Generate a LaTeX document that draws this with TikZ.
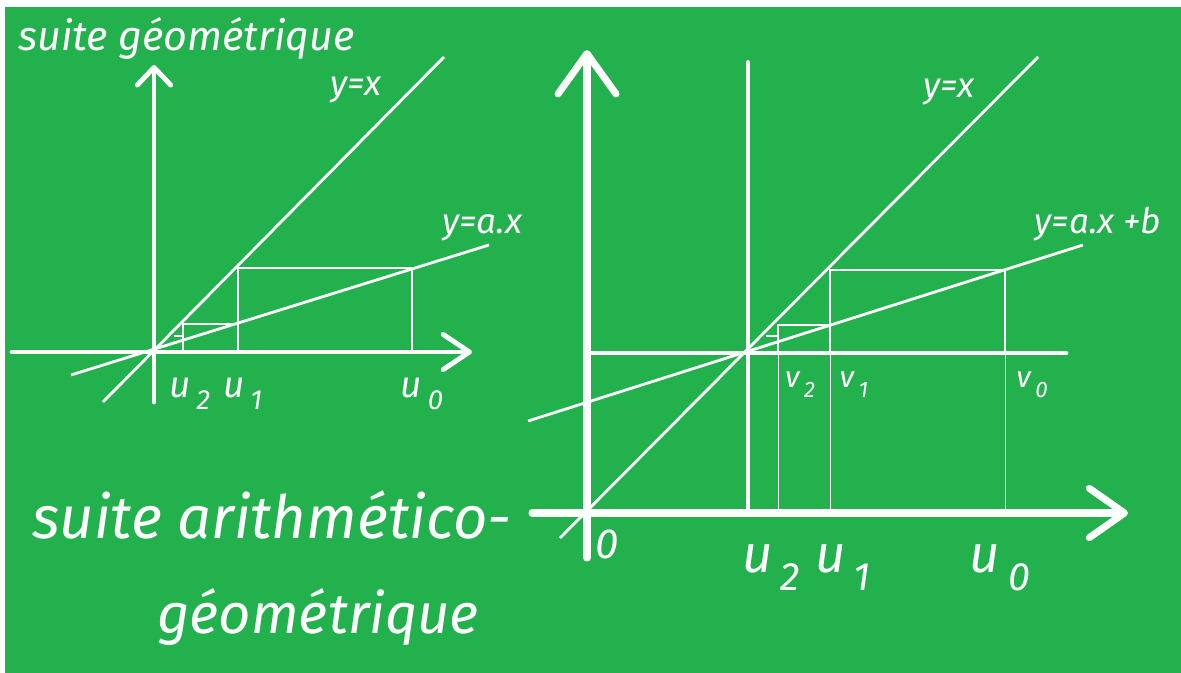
\documentclass[tikz,border=0pt]{standalone}
\usepackage{fontspec}
\setmainfont{Fira Sans}
\usepackage{tikz}
\usetikzlibrary{arrows.meta}
\definecolor{board}{RGB}{34,177,76}
\newcommand{\seq}[2]{#1\kern.15em\raisebox{-.35em}{\scalebox{.75}{#2}}}

\tikzset{
  axis/.style={white, line width=2.8pt, line cap=round},
  graphline/.style={white, line width=1.6pt},
  stairline/.style={white, line width=1pt},
  thinstair/.style={white, line width=.5pt},
  lbl/.style={text=white, font=\itshape\fontsize{#1}{#1}\selectfont, inner sep=0pt},
}

\begin{document}
\begin{tikzpicture}[x=0.02cm, y=-0.02cm]
  \useasboundingbox (0,0) rectangle (1181,673);
  % tableau
  \fill[white] (-5,-5) rectangle (1190,680);
  \fill[board] (5,7) rectangle (1190,680);

  % suite geometrique
  \draw[axis, -{Straight Barb[length=15pt, width=20pt, round]}] (12,352) -- (472,352);
  \draw[axis, -{Straight Barb[length=10pt, width=19pt, round]}] (154,402) -- (154,65);
  \draw[graphline] (103,402) -- (444,57);
  \draw[graphline] (71,375) -- (489,245);
  \draw[stairline] (412,352) -- (412,268) -- (238,268) -- (238,352);
  \draw[stairline] (238,324) -- (183,324) -- (183,352);
  \draw[stairline] (183,336) -- (174,336);

  \node[lbl=23.5pt, anchor=base west] (titregeo) at (18,50) {suite géométrique};
  \node[lbl=20pt, anchor=base] (yxgeo) at (356,95) {y=x};
  \node[lbl=20pt, anchor=base] (yaxgeo) at (482,233) {y=a.x};
  \node[lbl=21pt, anchor=base] (u2geo) at (190,397) {\seq{u}{2}};
  \node[lbl=21pt, anchor=base] (u1geo) at (243,397) {\seq{u}{1}};
  \node[lbl=21pt, anchor=base] (u0geo) at (422,397) {\seq{u}{0}};

  % suite arithmetico-geometrique
  \draw[axis, line width=4pt, -{Straight Barb[length=20pt, width=28pt, round]}] (532,513) -- (1128,513);
  \draw[axis, line width=4pt, -{Straight Barb[length=23pt, width=33pt, round]}] (587,558) -- (587,50);
  \draw[axis, line width=2.2pt] (748,513) -- (748,62);
  \draw[axis] (587,353) -- (1066,353);
  \draw[graphline] (560,538) -- (1038,57);
  \draw[graphline] (528,421) -- (1083,245);
  \draw[stairline] (1005,353) -- (1005,270) -- (830,270) -- (830,353);
  \draw[stairline] (830,325) -- (778,325) -- (778,353);
  \draw[stairline] (778,336) -- (766,336);
  \draw[thinstair] (1005,353) -- (1005,513);
  \draw[thinstair] (830,353) -- (830,513);
  \draw[thinstair] (778,353) -- (778,513);

  \node[lbl=20pt, anchor=base] (yxag) at (949,97) {y=x};
  \node[lbl=20pt, anchor=base] (yaxbag) at (1098,233) {y=a.x +b};
  \node[lbl=17pt, anchor=base] (v2ag) at (800,387) {\seq{v}{2}};
  \node[lbl=17pt, anchor=base] (v1ag) at (854,387) {\seq{v}{1}};
  \node[lbl=17pt, anchor=base] (v0ag) at (1032,387) {\seq{v}{0}};
  \node[lbl=24pt, anchor=base] (zeroag) at (607,558) {0};
  \node[lbl=30pt, anchor=base] (u2ag) at (771,572) {\seq{u}{2}};
  \node[lbl=30pt, anchor=base] (u1ag) at (843,572) {\seq{u}{1}};
  \node[lbl=30pt, anchor=base] (u0ag) at (1000,572) {\seq{u}{0}};

  \node[lbl=34pt, anchor=base west] (titreag) at (32,538) {suite arithmético-};
  \node[lbl=32pt, anchor=base west] (titreag2) at (157,633) {géométrique};
\end{tikzpicture}
\end{document}
